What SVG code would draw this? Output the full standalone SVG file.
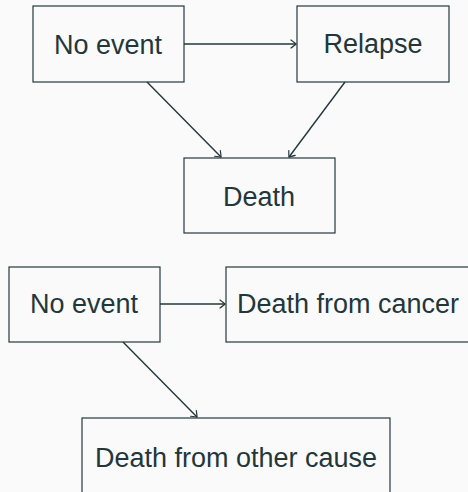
<svg xmlns="http://www.w3.org/2000/svg" width="468" height="492" viewBox="0 0 468 492">
<style>
.box{fill:none;stroke:#23373b;stroke-width:1.2}
.lbl{font-family:"Liberation Sans",Arial,sans-serif;font-size:27px;fill:#23373b;text-anchor:middle}
.edge{fill:none;stroke:#23373b;stroke-width:1.4;marker-end:url(#arr)}
</style>
<defs>
<marker id="arr" viewBox="-6 -5 8 10" markerWidth="8" markerHeight="10" refX="0" refY="0" orient="auto" markerUnits="userSpaceOnUse">
<path d="M-5,-4 Q-1,-1 0,0 Q-1,1 -5,4" fill="none" stroke="#23373b" stroke-width="1.2" stroke-linecap="round"/>
</marker>
</defs>
<rect width="468" height="492" fill="#fafafa"/>
<g id="edges">
<line class="edge" x1="184" y1="44" x2="296" y2="44"/>
<line class="edge" x1="147" y1="82" x2="221" y2="157"/>
<line class="edge" x1="345" y1="82" x2="289" y2="157"/>
<line class="edge" x1="160" y1="304" x2="225" y2="304"/>
<line class="edge" x1="123" y1="342" x2="197" y2="417"/>
</g>
<g id="n1"><rect class="box" x="33" y="6" width="151" height="76"/><text class="lbl" x="108" y="54">No event</text></g>
<g id="n2"><rect class="box" x="297" y="6" width="152" height="76"/><text class="lbl" x="373" y="53">Relapse</text></g>
<g id="n3"><rect class="box" x="184" y="158" width="151" height="75"/><text class="lbl" x="259" y="206">Death</text></g>
<g id="n4"><rect class="box" x="9" y="267" width="151" height="75"/><text class="lbl" x="84" y="313">No event</text></g>
<g id="n5"><rect class="box" x="226" y="267" width="250" height="75"/><text class="lbl" x="348" y="313">Death from cancer</text></g>
<g id="n6"><rect class="box" x="82" y="418" width="308" height="80"/><text class="lbl" x="236" y="467">Death from other cause</text></g>
</svg>
